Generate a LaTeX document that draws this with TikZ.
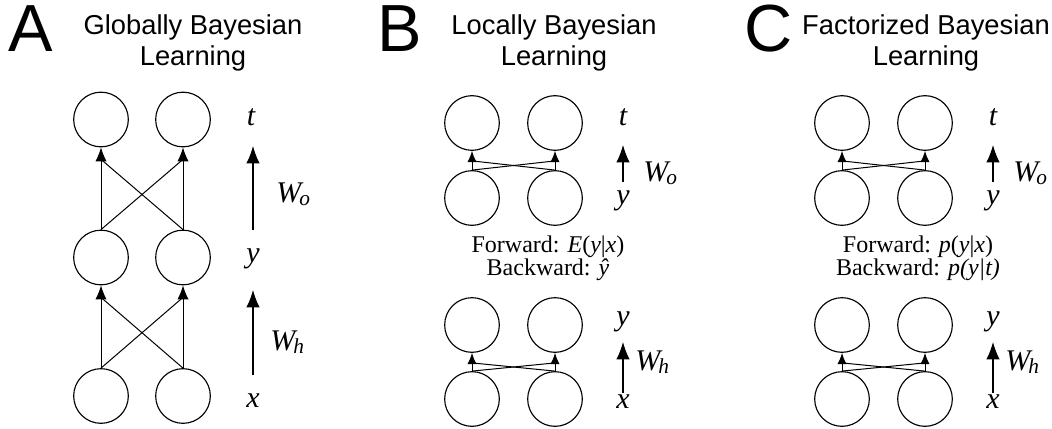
\documentclass[tikz,border=0pt]{standalone}
\usepackage{fontspec}
\setmainfont{Liberation Serif}
\newfontfamily\headfont{Liberation Sans}
\usetikzlibrary{arrows.meta,calc}
\newcommand\wsub[2]{#1\kern-1.5pt\raisebox{-2.5pt}{\fontsize{16}{16}\selectfont #2}}
\begin{document}
\begin{tikzpicture}[x=0.75pt,y=-0.75pt,
  unit/.style={circle,draw,line width=0.85pt,minimum size=41pt,inner sep=0pt},
  netline/.style={line width=0.75pt},
  bigarrow/.style={line width=0.75pt,-{Latex[length=10.5pt,width=8.5pt]}},
  smallarrow/.style={line width=0.75pt,-{Latex[length=8.5pt,width=7pt]}},
  sidearrow/.style={line width=0.8pt,-{Latex[length=13pt,width=10pt]}},
  layerlabel/.style={anchor=base,inner sep=0pt,font=\fontsize{22.5}{22.5}\selectfont\itshape},
  weightlabel/.style={anchor=base west,inner sep=0pt,font=\fontsize{22.5}{22.5}\selectfont\itshape},
  panelletter/.style={anchor=base west,inner sep=0pt,font=\headfont\fontsize{50}{50}\selectfont},
  paneltitle/.style={align=center,inner sep=0pt,font=\headfont\fontsize{20.5}{23}\selectfont},
  passnote/.style={align=center,inner sep=0pt,font=\fontsize{18}{17.5}\selectfont}]
 \useasboundingbox (0,0) rectangle (1052,428);
 % panel letters and titles
 \node [panelletter] (la) at (8,52) {A};
 \node [panelletter] (lb) at (377,52) {B};
 \node [panelletter] (lc) at (744,52) {C};
 \node [paneltitle] (ta) at (193,43) {Globally Bayesian\\Learning};
 \node [paneltitle] (tb) at (554,43) {Locally Bayesian\\Learning};
 \node [paneltitle] (tc) at (926,43) {Factorized Bayesian\\Learning};
 % A: one network x -> y -> t
 \node [unit] (at1) at (101,119.5) {};
 \node [unit] (at2) at (183,119.5) {};
 \node [unit] (ay1) at (101,257.5) {};
 \node [unit] (ay2) at (183,257.5) {};
 \node [unit] (ax1) at (101,396) {};
 \node [unit] (ax2) at (183,396) {};
 \draw [bigarrow] (ay1.north) -- (at1.south);
 \draw [bigarrow] (ay2.north) -- (at2.south);
 \draw [netline] (ay1.north) -- ($(at2.south)+(0,12)$);
 \draw [netline] (ay2.north) -- ($(at1.south)+(0,12)$);
 \draw [bigarrow] (ax1.north) -- (ay1.south);
 \draw [bigarrow] (ax2.north) -- (ay2.south);
 \draw [netline] (ax1.north) -- ($(ay2.south)+(0,12)$);
 \draw [netline] (ax2.north) -- ($(ay1.south)+(0,12)$);
 \node [layerlabel] (lat) at (251,125) {t};
 \node [layerlabel] (lay) at (253,262) {y};
 \node [layerlabel] (lax) at (253,407) {x};
 \node [weightlabel] (wao) at (276,202) {\wsub{W}{o}};
 \node [weightlabel] (wah) at (270,350) {\wsub{W}{h}};
 \coordinate (aoa) at (253,230);
 \coordinate (aob) at (253,146);
 \coordinate (aha) at (253,375);
 \coordinate (ahb) at (253,290);
 \draw [sidearrow] (aoa) -- (aob);
 \draw [sidearrow] (aha) -- (ahb);
 % B and C: two separate layers
 \foreach \p/\dx/\fwd/\bwd in {b/0/{Forward: \textit{E}(\textit{y}|\textit{x})}/{Backward: \textit{ŷ}},
                              c/370/{Forward: \textit{p}(\textit{y}|\textit{x})}/{Backward: \textit{p(y|t)}}} {
  \node [unit] (\p t1) at (472+\dx,123) {};
  \node [unit] (\p t2) at (555+\dx,123) {};
  \node [unit] (\p oy1) at (472+\dx,198) {};
  \node [unit] (\p oy2) at (555+\dx,198) {};
  \node [unit] (\p hy1) at (472+\dx,325) {};
  \node [unit] (\p hy2) at (555+\dx,325) {};
  \node [unit] (\p x1) at (472+\dx,399) {};
  \node [unit] (\p x2) at (555+\dx,399) {};
  \draw [smallarrow] (\p oy1.north) -- (\p t1.south);
  \draw [smallarrow] (\p oy2.north) -- (\p t2.south);
  \draw [netline] (\p oy1.north) -- ($(\p t2.south)+(0,10)$);
  \draw [netline] (\p oy2.north) -- ($(\p t1.south)+(0,10)$);
  \draw [smallarrow] (\p x1.north) -- (\p hy1.south);
  \draw [smallarrow] (\p x2.north) -- (\p hy2.south);
  \draw [netline] (\p x1.north) -- ($(\p hy2.south)+(0,10)$);
  \draw [netline] (\p x2.north) -- ($(\p hy1.south)+(0,10)$);
  \node [layerlabel] (\p lt) at (623+\dx,125) {t};
  \node [layerlabel] (\p loy) at (623+\dx,204) {y};
  \node [layerlabel] (\p lhy) at (623+\dx,325) {y};
  \node [layerlabel] (\p lx) at (623+\dx,408) {x};
  \node [weightlabel] (\p wo) at (643+\dx,181) {\wsub{W}{o}};
  \node [weightlabel] (\p wh) at (635+\dx,370) {\wsub{W}{h}};
  \coordinate (\p oa) at (623+\dx,182);
  \coordinate (\p ob) at (623+\dx,145);
  \coordinate (\p ha) at (623+\dx,393);
  \coordinate (\p hb) at (623+\dx,342);
  \draw [sidearrow] (\p oa) -- (\p ob);
  \draw [sidearrow] (\p ha) -- (\p hb);
  \node [passnote] (\p note) at (548+\dx,258) {\fwd\\\bwd};
 }
\end{tikzpicture}
\end{document}
